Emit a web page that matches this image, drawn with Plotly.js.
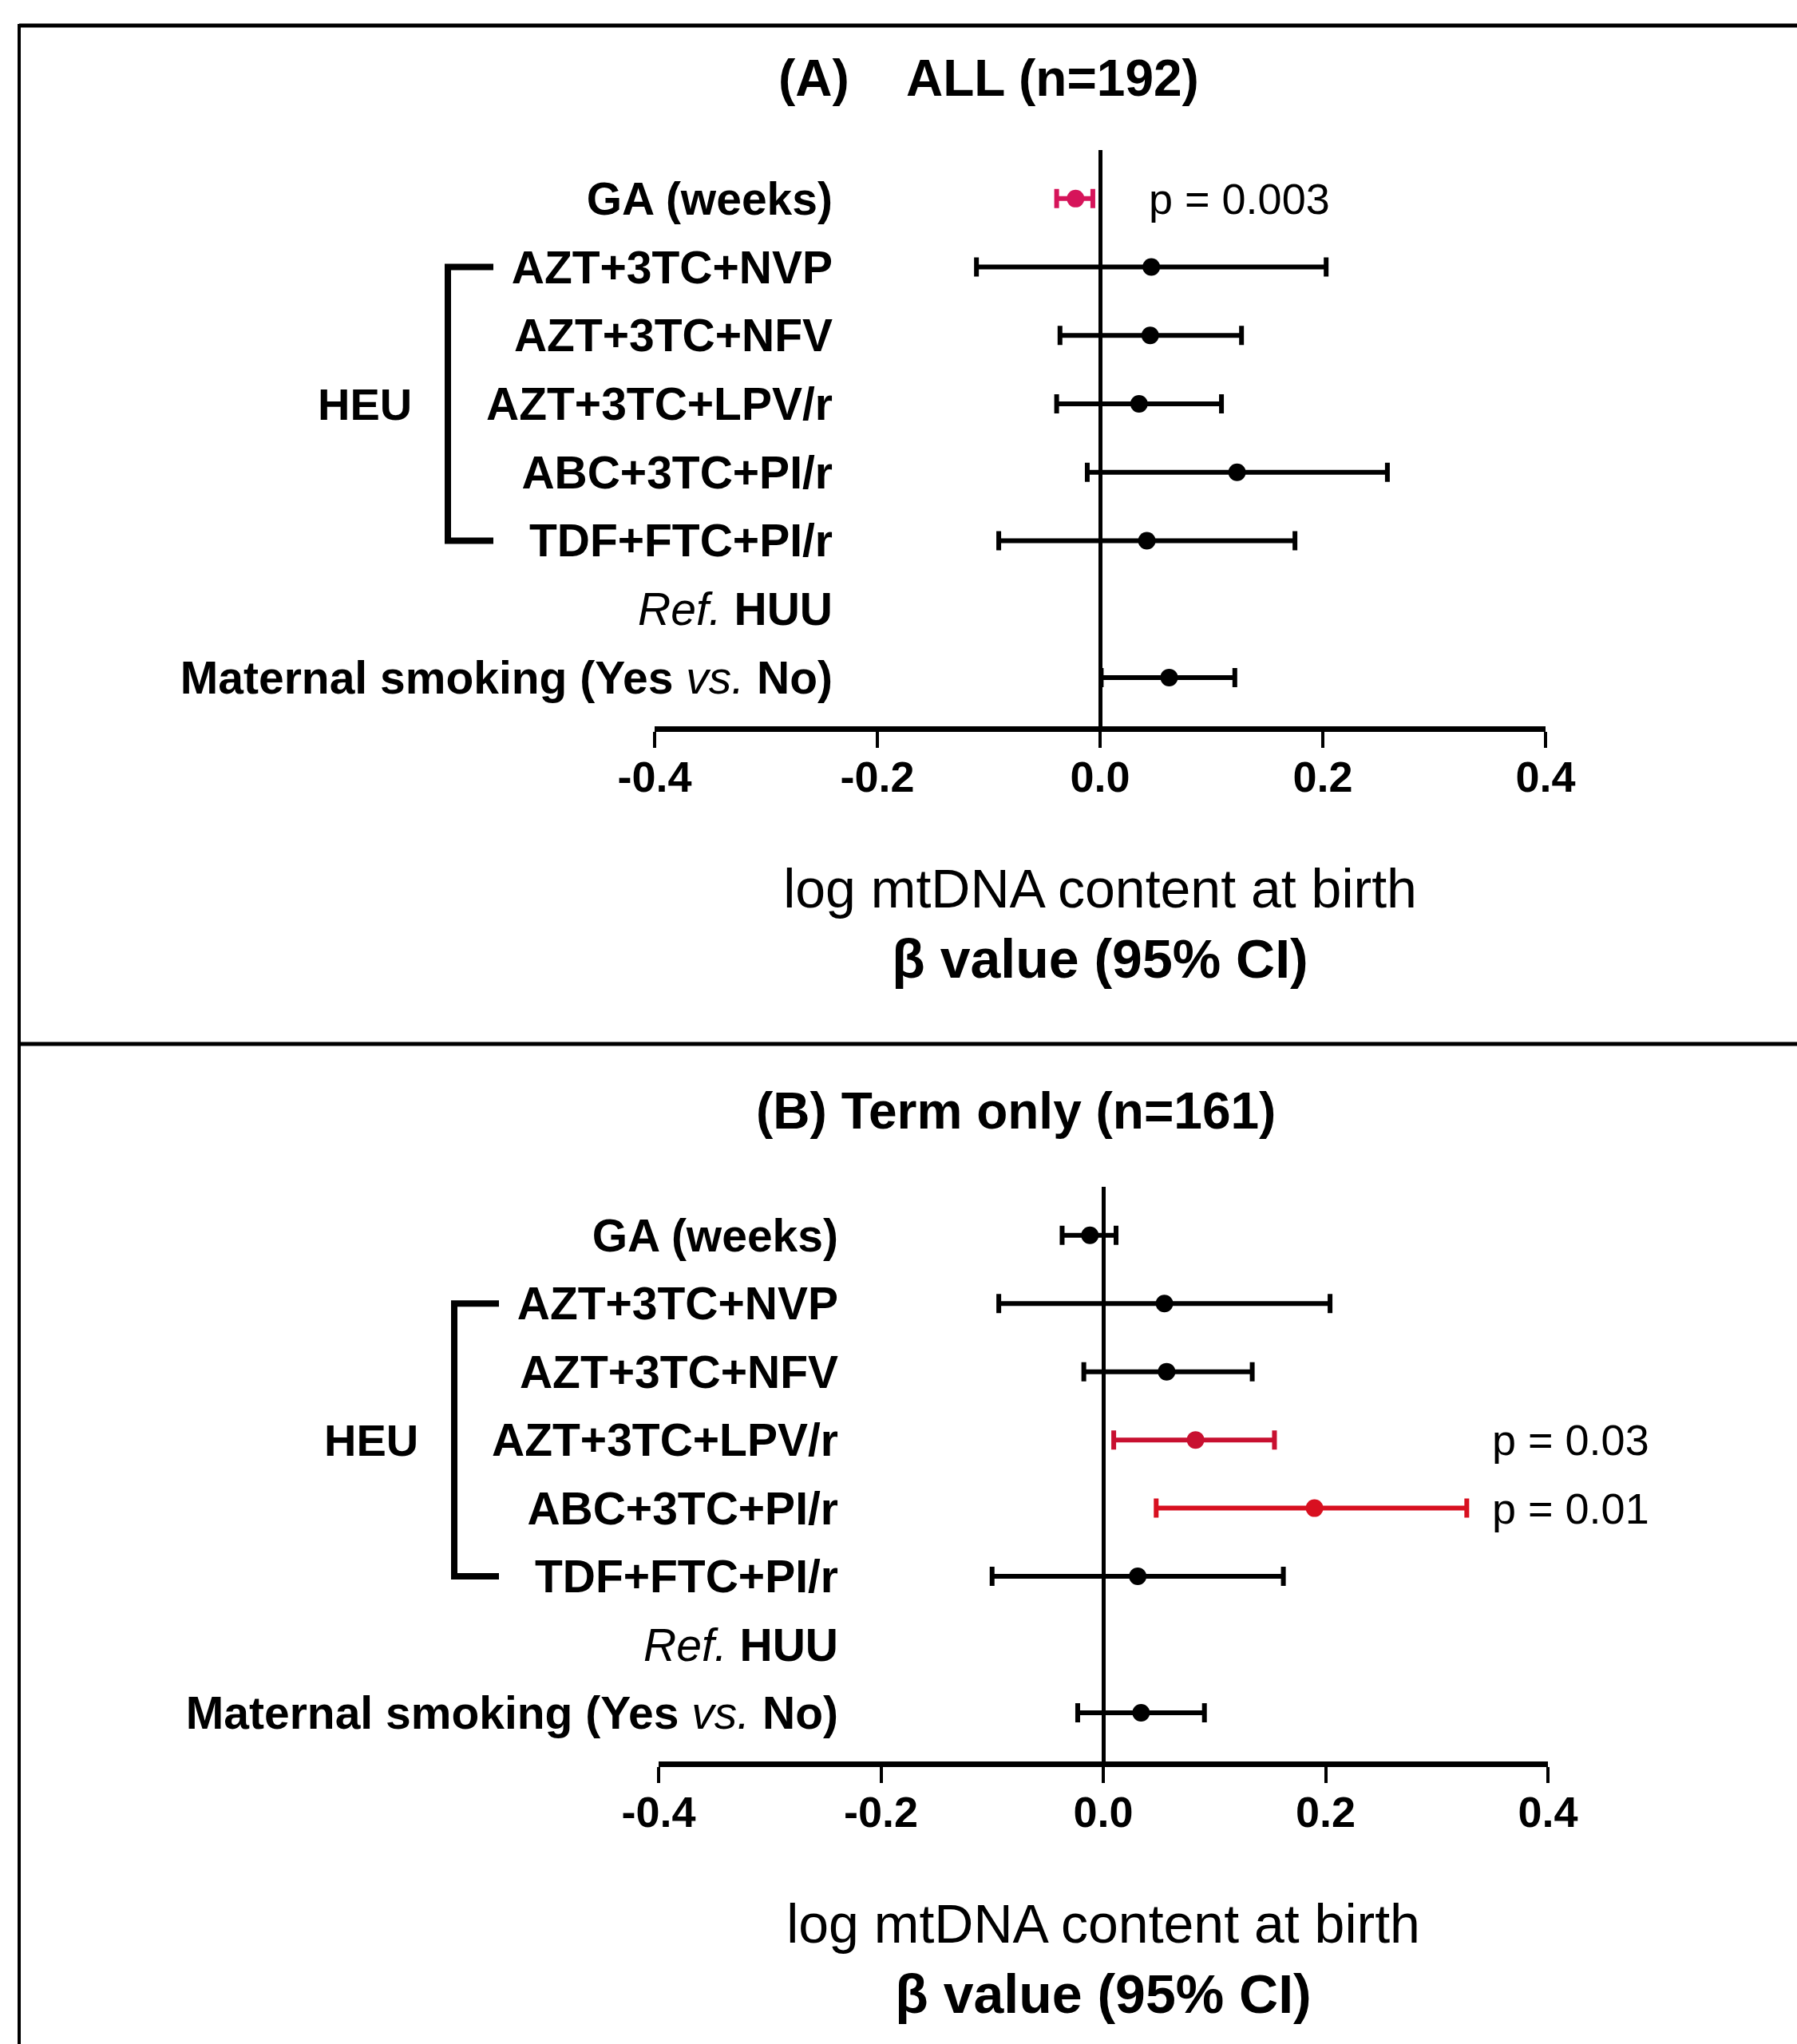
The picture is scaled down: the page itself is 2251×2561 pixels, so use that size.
<!DOCTYPE html>
<html>
<head>
<meta charset="utf-8">
<script src="https://cdn.plot.ly/plotly-3.0.1.min.js"></script>
<style>
  html, body { margin: 0; padding: 0; background: #ffffff; }
  #chart { width: 2251px; height: 2561px; }
</style>
</head>
<body>
<div id="chart"></div>
<script>
// ---------- data ----------
const rowLabels = [
  '<b>GA (weeks)</b>',
  '<b>AZT+3TC+NVP</b>',
  '<b>AZT+3TC+NFV</b>',
  '<b>AZT+3TC+LPV/r</b>',
  '<b>ABC+3TC+PI/r</b>',
  '<b>TDF+FTC+PI/r</b>',
  '<i>Ref.</i> <b>HUU</b>',
  '<b>Maternal smoking (Yes</b> <i>vs.</i> <b>No)</b>'
];
const rowPos = [8, 7, 6, 5, 4, 3, 2, 1];

// Panel A: ALL (n=192)
const betaA = [-0.022, 0.046, 0.045, 0.035, 0.123, 0.042, null, 0.062];
const lowA  = [-0.039, -0.111, -0.036, -0.039, -0.0115, -0.091, null, 0.001];
const highA = [-0.0065, 0.203, 0.127, 0.109, 0.258, 0.175, null, 0.121];
const colorA = ['#d6145a', '#000000', '#000000', '#000000', '#000000', '#000000', null, '#000000'];
const pTextA = ['p = 0.003', null, null, null, null, null, null, null];

// Panel B: Term only (n=161)
const betaB = [-0.012, 0.055, 0.057, 0.083, 0.190, 0.031, null, 0.034];
const lowB  = [-0.037, -0.094, -0.0175, 0.0094, 0.0476, -0.100, null, -0.023];
const highB = [0.0115, 0.204, 0.134, 0.154, 0.327, 0.162, null, 0.091];
const colorB = ['#000000', '#000000', '#000000', '#c81030', '#d81020', '#000000', null, '#000000'];
const pTextB = [null, null, null, 'p = 0.03', 'p = 0.01', null, null, null];

const xTickVals = [-0.4, -0.2, 0.0, 0.2, 0.4];
const xTickText = ['-0.4', '-0.2', '0.0', '0.2', '0.4'];

const titleA = '<b>(A)\u00a0\u00a0\u00a0\u00a0ALL (n=192)</b>';
const titleB = '<b>(B) Term only (n=161)</b>';
const xTitle = 'log mtDNA content at birth<br><b>\u03b2 value (95% CI)</b>';
const groupLabel = '<b>HEU</b>';

// ---------- geometry helpers ----------
const W = 2251, H = 2561;
const px = v => v / W;
const py = v => 1 - v / H;
const FONT = 'Liberation Sans, Arial, sans-serif';

function panelTraces(beta, low, high, color, xa, ya) {
  const traces = [];
  for (let i = 0; i < beta.length; i++) {
    if (beta[i] === null) continue;
    traces.push({
      type: 'scatter', mode: 'markers',
      x: [beta[i]], y: [rowPos[i]],
      xaxis: xa, yaxis: ya,
      marker: { color: color[i], size: 22 },
      error_x: {
        type: 'data', symmetric: false,
        array: [high[i] - beta[i]], arrayminus: [beta[i] - low[i]],
        color: color[i], thickness: 6, width: 12
      },
      cliponaxis: false, showlegend: false, hoverinfo: 'skip'
    });
  }
  return traces;
}

const data = [
  ...panelTraces(betaA, lowA, highA, colorA, 'x', 'y'),
  ...panelTraces(betaB, lowB, highB, colorB, 'x2', 'y2')
];

function xAxis(domain, anchor) {
  return {
    domain: domain, anchor: anchor, range: [-0.4, 0.4], fixedrange: true,
    tickmode: 'array', tickvals: xTickVals, ticktext: xTickText,
    ticks: 'outside', ticklen: 20, tickwidth: 4, tickcolor: '#000',
    ticklabelstandoff: -10,
    tickfont: { family: FONT, size: 54, color: '#000', weight: 'bold' },
    showline: true, linewidth: 7, linecolor: '#000',
    showgrid: false, zeroline: true, zerolinewidth: 5, zerolinecolor: '#000',
    title: { text: xTitle, font: { family: FONT, size: 68, color: '#000' }, standoff: 90 }
  };
}
function yAxis(domain, pos) {
  return {
    domain: domain, anchor: 'free', position: pos,
    range: [0.287, 8.71], fixedrange: true,
    tickmode: 'array', tickvals: rowPos, ticktext: rowLabels,
    ticks: '', showline: false, showgrid: false, zeroline: false,
    tickfont: { family: FONT, size: 57, color: '#000' }
  };
}

const layout = {
  width: W, height: H,
  margin: { l: 0, r: 0, t: 0, b: 0 },
  paper_bgcolor: '#ffffff', plot_bgcolor: 'rgba(0,0,0,0)',
  font: { family: FONT, color: '#000' },
  showlegend: false,
  xaxis: xAxis([px(820), px(1936)], 'y'),
  yaxis: yAxis([py(910), py(188)], px(1043)),
  xaxis2: xAxis([px(825), px(1939)], 'y2'),
  yaxis2: yAxis([py(2207), py(1487)], px(1050)),
  annotations: [
    { xref: 'paper', yref: 'paper', x: px(1238), y: py(98), text: titleA, showarrow: false,
      xanchor: 'center', yanchor: 'middle', font: { family: FONT, size: 64, color: '#000' } },
    { xref: 'paper', yref: 'paper', x: px(1272), y: py(1392), text: titleB, showarrow: false,
      xanchor: 'center', yanchor: 'middle', font: { family: FONT, size: 64, color: '#000' } },
    { xref: 'paper', yref: 'y', x: px(457), y: rowPos[3], text: groupLabel, showarrow: false,
      xanchor: 'center', yanchor: 'middle', font: { family: FONT, size: 56, color: '#000' } },
    { xref: 'paper', yref: 'y2', x: px(465), y: rowPos[3], text: groupLabel, showarrow: false,
      xanchor: 'center', yanchor: 'middle', font: { family: FONT, size: 56, color: '#000' } }
  ],
  shapes: [
    // frame lines
    { type: 'line', xref: 'paper', yref: 'paper', x0: px(24), x1: 1, y0: py(32), y1: py(32),
      line: { color: '#000', width: 5 } },
    { type: 'line', xref: 'paper', yref: 'paper', x0: px(24), x1: px(24), y0: py(30), y1: 0,
      line: { color: '#000', width: 4 } },
    { type: 'line', xref: 'paper', yref: 'paper', x0: px(24), x1: 1, y0: py(1308), y1: py(1308),
      line: { color: '#000', width: 5 } },
    // HEU brackets
    { type: 'path', xref: 'paper', yref: 'y',
      path: `M ${px(618)},${rowPos[1]} L ${px(561)},${rowPos[1]} L ${px(561)},${rowPos[5]} L ${px(618)},${rowPos[5]}`,
      line: { color: '#000', width: 8 } },
    { type: 'path', xref: 'paper', yref: 'y2',
      path: `M ${px(625)},${rowPos[1]} L ${px(569)},${rowPos[1]} L ${px(569)},${rowPos[5]} L ${px(625)},${rowPos[5]}`,
      line: { color: '#000', width: 8 } }
  ]
};

// p-value labels
pTextA.forEach((t, i) => {
  if (t) layout.annotations.push({ xref: 'x', yref: 'y', x: 0.042, y: rowPos[i], text: t,
    showarrow: false, xanchor: 'left', yanchor: 'middle', font: { family: FONT, size: 54, color: '#000' } });
});
pTextB.forEach((t, i) => {
  if (t) layout.annotations.push({ xref: 'x2', yref: 'y2', x: 0.348, y: rowPos[i], text: t,
    showarrow: false, xanchor: 'left', yanchor: 'middle', font: { family: FONT, size: 54, color: '#000' } });
});

Plotly.newPlot('chart', data, layout, { displayModeBar: false, staticPlot: true });
</script>
</body>
</html>
